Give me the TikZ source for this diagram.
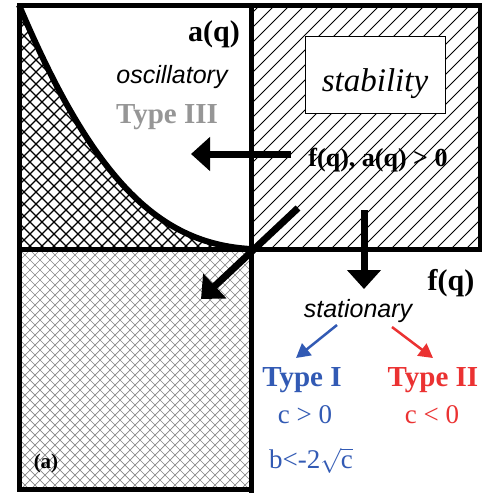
\documentclass[tikz,border=0pt]{standalone}
\usepackage{fontspec}
\setmainfont{Liberation Serif}
\newfontfamily\sansfam{Liberation Sans}
\usetikzlibrary{arrows.meta}
\definecolor{tblue}{RGB}{50,90,180}
\definecolor{tred}{RGB}{235,50,50}
\definecolor{tgray}{RGB}{150,150,150}
\definecolor{hgray}{RGB}{135,135,135}
\begin{document}
\begin{tikzpicture}[x=1pt,y=-1pt,
  border/.style={line width=5pt, line cap=rect},
  bigarrow/.style={line width=7pt, -{Triangle[length=19pt,width=33pt]}},
  smallarrow/.style={line width=2.5pt, -{Triangle[length=14pt,width=15pt]}},
  boldlbl/.style={inner sep=0pt, anchor=base, font=\bfseries\fontsize{30}{36}\selectfont},
  typelbl/.style={inner sep=0pt, anchor=base, font=\bfseries\fontsize{29}{34}\selectfont},
  condlbl/.style={inner sep=0pt, anchor=base, font=\fontsize{27}{32}\selectfont},
  sanslbl/.style={inner sep=0pt, anchor=base, font=\sansfam\itshape\fontsize{25}{30}\selectfont},
  stabbox/.style={draw, fill=white, line width=1pt, minimum width=140pt, minimum height=77pt, inner sep=0pt}
]
\useasboundingbox (0,0) rectangle (482,493);
\fill[white] (0,0) rectangle (482,493);

% upper-right hatching
\begin{scope}
  \clip (252,5) rectangle (480,249);
  \foreach \c in {250,265,...,760} \draw[line width=0.8pt] (\c,0) -- ({\c-500},500);
\end{scope}

% upper-left dense cross-hatch under the curve
\begin{scope}
  \clip (19,5) .. controls (95,185) and (162,244) .. (251,249) -- (19,249) -- cycle;
  \foreach \c in {0,12,...,560} \draw[line width=1.4pt] (\c,0) -- ({\c-300},300);
  \foreach \d in {-300,-288,...,260} \draw[line width=1.4pt] (\d,0) -- ({\d+300},300);
\end{scope}

% lower-left gray cross-hatch
\begin{scope}
  \clip (19,249) rectangle (251,489);
  \foreach \c in {250,260,...,760} \draw[hgray, line width=0.7pt] (\c,0) -- ({\c-500},500);
  \foreach \d in {-500,-490,...,20} \draw[hgray, line width=0.7pt] (\d,0) -- ({\d+500},500);
\end{scope}

% curve
\draw[line width=6pt] (19,5) .. controls (95,185) and (162,244) .. (251,249);

% borders
\draw[border] (19,5) -- (480,5);
\draw[border] (19,5) -- (19,489);
\draw[border] (19,489) -- (251,489);
\draw[border] (251,5) -- (251,495);
\draw[border] (19,249) -- (484,249);
\draw[line width=4pt] (480,5) -- (480,249);

% stability box
\node[stabbox] (sbox) at (375,75) {};
\node[inner sep=0pt, anchor=base, font=\itshape\fontsize{33}{38}\selectfont] (stab) at (375,91) {stability};

% labels
\node[boldlbl] (aq) at (214,41) {a(q)};
\node[sanslbl] (osc) at (172,83) {oscillatory};
\node[typelbl, text=tgray] (t3) at (167,123) {Type III};
\node[condlbl, font=\bfseries\fontsize{26}{30}\selectfont] (cond) at (378,166) {f(q), a(q) > 0};
\node[boldlbl] (fq) at (451,290) {f(q)};
\node[sanslbl] (stat) at (358,317) {stationary};
\node[typelbl, text=tblue] (t1) at (302,386) {Type I};
\node[typelbl, text=tred] (t2) at (433,386) {Type II};
\node[condlbl, text=tblue] (c1) at (305,423) {c > 0};
\node[condlbl, text=tred] (c2) at (432,423) {c < 0};
\node[condlbl, text=tblue] (b1) at (311,468) {b<-2$\sqrt{\mbox{c}}$};
\node[inner sep=0pt, anchor=base, font=\bfseries\fontsize{21}{25}\selectfont] (lab) at (46,468) {(a)};

% arrow end points
\coordinate (la0) at (291,154);
\coordinate (la1) at (191,154);
\coordinate (da0) at (298,208);
\coordinate (da1) at (201,299);
\coordinate (va0) at (364,210);
\coordinate (va1) at (364,289);
\coordinate (ba0) at (337,325);
\coordinate (ba1) at (296,358);
\coordinate (ra0) at (392,327);
\coordinate (ra1) at (433,358);

\draw[bigarrow] (la0) -- (la1);
\draw[bigarrow] (da0) -- (da1);
\draw[bigarrow] (va0) -- (va1);
\draw[smallarrow, tblue] (ba0) -- (ba1);
\draw[smallarrow, tred] (ra0) -- (ra1);
\end{tikzpicture}
\end{document}
